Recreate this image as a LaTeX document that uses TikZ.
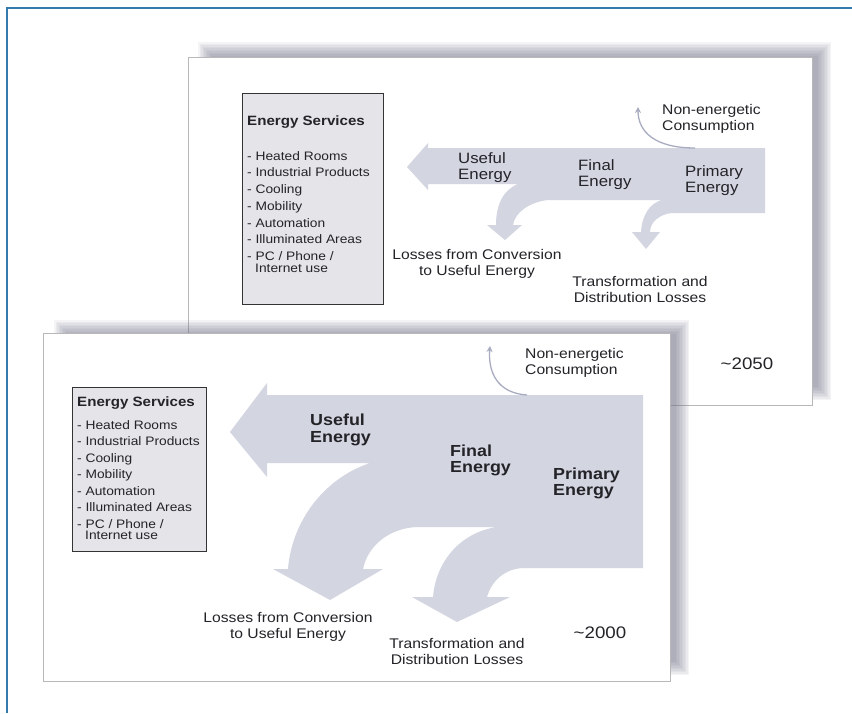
\documentclass[tikz,border=0pt]{standalone}
\usepackage{fontspec}
\setmainfont{Liberation Sans}[FakeStretch=1.12]
\usepackage{xcolor}
\usepackage{tikz}
\usetikzlibrary{arrows.meta}

\definecolor{frameblue}{RGB}{52,122,172}
\definecolor{flowgray}{RGB}{211,213,225}
\definecolor{boxgray}{RGB}{228,228,233}
\definecolor{shadowgray}{RGB}{112,112,135}
\definecolor{necolor}{RGB}{168,172,192}
\definecolor{textgray}{RGB}{35,35,40}

\begin{document}
\begin{tikzpicture}[x=1pt, y=-1pt,
  panel/.style={fill=white, draw=black!28, line width=0.8pt},
  servicebox/.style={draw=black!80, fill=boxgray, line width=0.9pt, inner sep=0pt},
  flow/.style={fill=flowgray},
  neflow/.style={draw=necolor, line width=1.3pt, -{Stealth[length=6pt, width=6pt]}},
  title/.style={anchor=west, inner sep=0pt, text=textgray, font=\bfseries\fontsize{13.5}{15}\selectfont},
  item/.style={anchor=west, inner sep=0pt, text=textgray, font=\fontsize{12.3}{14}\selectfont, text height=9pt, text depth=2.5pt},
  note/.style={align=center, inner sep=0pt, text=textgray, font=\fontsize{14}{16}\selectfont},
  backflow/.style={align=left, anchor=west, inner sep=0pt, text=textgray, font=\fontsize{15}{16}\selectfont},
  frontflow/.style={align=left, anchor=west, inner sep=0pt, text=textgray, font=\bfseries\fontsize{16}{16.5}\selectfont},
  year/.style={inner sep=0pt, text=textgray, font=\fontsize{16.7}{18}\selectfont}]

\useasboundingbox (0,0) rectangle (852,713);
\draw[frameblue, line width=1.5pt] (7,713) -- (7,8) -- (852,8);

% ~2050
\foreach \k in {0,...,9}
  \fill[shadowgray, opacity=0.08] ({198+1.5*\k}, {42+1.5*\k}) rectangle ({831-1.5*\k}, {400-1.5*\k});
\draw[panel] (188,57) rectangle (812,405);

\node[servicebox, minimum width=141pt, minimum height=211pt] at (312.5, 198.5) (services2050) {};
\node[title] at (247, 122) (head2050) {Energy Services};
\foreach \txt [count=\i from 0] in {Heated Rooms, Industrial Products, Cooling, Mobility, Automation, Illuminated Areas, PC / Phone /}
  \node[item] at (247, {157+16.7*\i}) (item2050-\i) {- \txt};
\node[item] at (255, 268.8) (internet2050) {Internet use};

\fill[flow] (407,167) -- (428,143) -- (428,148) -- (765,148) -- (765,213) -- (672,213)
  .. controls (660,214) and (650,222) .. (650,232) -- (660,232) -- (646,249) -- (632,232) -- (641,232)
  .. controls (642,215) and (650,203) .. (662,200) -- (548,200)
  .. controls (530,202) and (515,212) .. (513,225) -- (522,225) -- (505,240) -- (487,225) -- (496,225)
  .. controls (496,205) and (503,190) .. (518,184) -- (428,184) -- (428,190) -- cycle;

\coordinate (neFrom2050) at (695,148);
\coordinate (neTo2050) at (638,107);
\draw[neflow] (neFrom2050) .. controls (655,148) and (638,132) .. (neTo2050);

\node[backflow] at (458, 167.5) (useful2050) {Useful\\Energy};
\node[backflow] at (578, 175) (final2050) {Final\\Energy};
\node[backflow] at (685, 180.5) (primary2050) {Primary\\Energy};
\node[note, align=left, anchor=west] at (662, 119) (nonen2050) {Non-energetic\\Consumption};
\node[note] at (477, 264) (convloss2050) {Losses from Conversion\\to Useful Energy};
\node[note] at (640, 289) (distloss2050) {Transformation and\\Distribution Losses};
\node[year] at (747, 364) (year2050) {\char"7E 2050};

% ~2000
\foreach \k in {0,...,9}
  \fill[shadowgray, opacity=0.08] ({54+1.5*\k}, {320+1.5*\k}) rectangle ({689-1.5*\k}, {675-1.5*\k});
\draw[panel] (43,333) rectangle (670,681);

\node[servicebox, minimum width=134pt, minimum height=164pt] at (139, 469) (services2000) {};
\node[title] at (77, 403) (head2000) {Energy Services};
\foreach \txt [count=\i from 0] in {Heated Rooms, Industrial Products, Cooling, Mobility, Automation, Illuminated Areas, PC / Phone /}
  \node[item] at (77, {426+16.5*\i}) (item2000-\i) {- \txt};
\node[item] at (85, 536.6) (internet2000) {Internet use};

\fill[flow] (230,432) -- (267,383) -- (267,395) -- (643,395) -- (643,568) -- (523,568)
  .. controls (505,569) and (492,580) .. (487,597) -- (510,597) -- (457,622) -- (412,597) -- (433,597)
  .. controls (436,560) and (462,532) .. (497,527) -- (417,527)
  .. controls (390,528) and (368,545) .. (363,569) -- (383,569) -- (330,600) -- (273,569) -- (288,569)
  .. controls (292,520) and (325,478) .. (370,463) -- (267,463) -- (267,477) -- cycle;

\coordinate (neFrom2000) at (527,395);
\coordinate (neTo2000) at (490,346);
\draw[neflow] (neFrom2000) .. controls (497,393) and (488,372) .. (neTo2000);

\node[frontflow] at (310, 430) (useful2000) {Useful\\Energy};
\node[frontflow] at (450, 460.5) (final2000) {Final\\Energy};
\node[frontflow] at (553, 483.5) (primary2000) {Primary\\Energy};
\node[note, align=left, anchor=west] at (525, 363) (nonen2000) {Non-energetic\\Consumption};
\node[note] at (288, 627) (convloss2000) {Losses from Conversion\\to Useful Energy};
\node[note] at (457, 651) (distloss2000) {Transformation and\\Distribution Losses};
\node[year] at (600, 633) (year2000) {\char"7E 2000};

\end{tikzpicture}
\end{document}
